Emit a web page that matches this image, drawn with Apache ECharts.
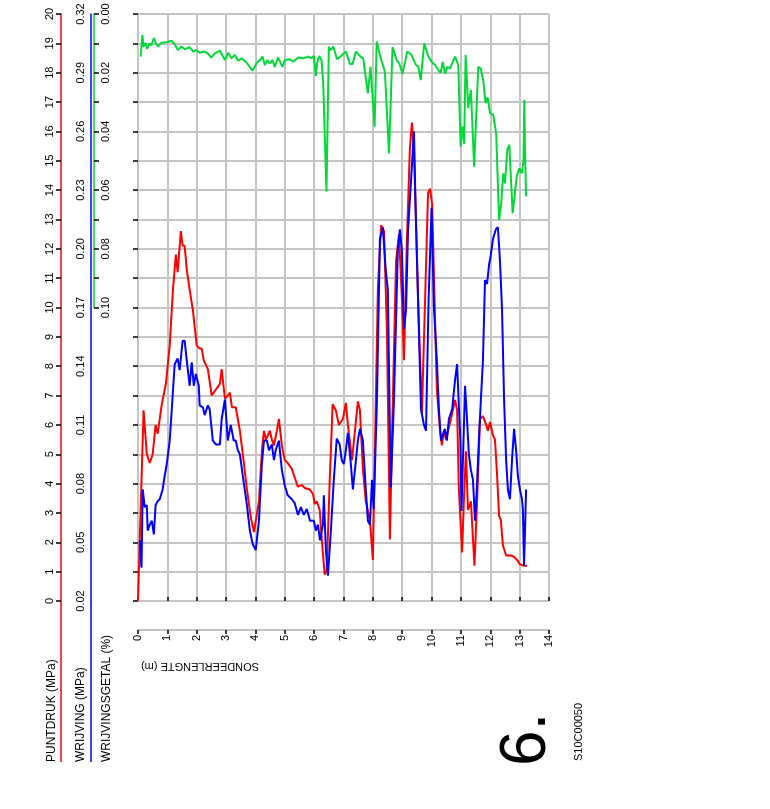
<!DOCTYPE html>
<html>
<head>
<meta charset="utf-8">
<script src="https://cdn.jsdelivr.net/npm/echarts@6/dist/echarts.min.js"></script>
<style>html,body{margin:0;padding:0;background:#fff}#c{width:770px;height:809px}</style>
</head>
<body>
<div id="c"></div>
<script>
// depth (m) ticks
const depthTicks = [0,1,2,3,4,5,6,7,8,9,10,11,12,13,14];
// PUNTDRUK (MPa): [depth m, qc MPa]
const puntdruk = [[0.00,0.0],[0.06,2.1],[0.19,6.5],[0.30,5.0],[0.40,4.7],[0.50,5.0],[0.60,6.0],[0.67,5.7],[0.81,6.7],[0.95,7.4],[1.08,8.7],[1.19,10.6],[1.29,11.8],[1.35,11.2],[1.46,12.6],[1.52,12.1],[1.59,12.1],[1.66,11.3],[1.76,10.6],[1.87,9.9],[1.93,9.9],[2.00,8.7],[2.10,8.6],[2.17,8.6],[2.24,8.2],[2.38,7.9],[2.51,7.0],[2.65,7.2],[2.79,7.4],[2.85,7.9],[2.96,6.9],[3.06,7.0],[3.13,7.1],[3.20,6.6],[3.33,6.6],[3.47,5.8],[3.57,5.0],[3.71,3.8],[3.85,2.8],[3.95,2.35],[4.01,2.4],[4.12,3.4],[4.22,5.1],[4.29,5.8],[4.36,5.5],[4.42,5.5],[4.49,5.8],[4.56,5.5],[4.63,5.3],[4.73,5.8],[4.80,6.2],[4.90,5.3],[5.00,4.8],[5.10,4.7],[5.24,4.5],[5.34,4.2],[5.44,3.9],[5.58,3.95],[5.68,3.85],[5.85,3.8],[5.96,3.65],[6.02,3.3],[6.09,3.4],[6.19,3.1],[6.26,2.1],[6.36,0.9],[6.43,1.05],[6.53,4.1],[6.63,6.7],[6.74,6.5],[6.84,6.0],[6.91,6.1],[6.98,6.2],[7.08,6.75],[7.15,6.0],[7.29,4.8],[7.39,5.8],[7.49,6.8],[7.56,6.5],[7.66,4.5],[7.76,3.4],[7.90,2.75],[8.00,1.4],[8.07,5.1],[8.17,10.6],[8.28,12.8],[8.38,12.6],[8.48,9.2],[8.58,2.1],[8.68,6.8],[8.79,11.6],[8.89,12.5],[8.99,10.3],[9.06,8.2],[9.16,12.3],[9.26,15.4],[9.33,16.3],[9.40,15.4],[9.54,10.3],[9.67,6.4],[9.78,10.3],[9.88,13.9],[9.95,14.05],[10.02,13.5],[10.10,10.3],[10.18,7.2],[10.29,5.8],[10.35,5.3],[10.42,5.8],[10.49,5.5],[10.56,5.8],[10.66,6.2],[10.80,6.85],[10.87,6.5],[10.93,3.8],[11.04,1.65],[11.10,3.4],[11.17,5.1],[11.24,3.1],[11.34,3.4],[11.46,1.2],[11.55,3.4],[11.65,6.2],[11.75,6.3],[11.86,6.0],[11.92,5.8],[11.99,6.1],[12.09,5.65],[12.16,5.5],[12.23,4.3],[12.30,2.9],[12.36,2.75],[12.43,1.9],[12.54,1.55],[12.71,1.55],[12.81,1.5],[12.91,1.4],[13.01,1.25],[13.15,1.2],[13.25,1.2]];
// WRIJVING (MPa): [depth m, fs MPa]
const wrijving = [[0.06,0.051],[0.12,0.037],[0.16,0.077],[0.23,0.068],[0.30,0.069],[0.33,0.056],[0.40,0.059],[0.47,0.061],[0.54,0.054],[0.60,0.069],[0.67,0.071],[0.74,0.072],[0.84,0.077],[0.91,0.084],[0.98,0.090],[1.08,0.102],[1.15,0.118],[1.25,0.141],[1.35,0.144],[1.42,0.138],[1.52,0.153],[1.59,0.153],[1.66,0.143],[1.76,0.130],[1.83,0.142],[1.90,0.130],[1.97,0.136],[2.07,0.130],[2.10,0.120],[2.21,0.119],[2.27,0.115],[2.38,0.120],[2.44,0.118],[2.55,0.102],[2.65,0.100],[2.79,0.100],[2.85,0.113],[2.96,0.123],[3.06,0.102],[3.16,0.110],[3.26,0.102],[3.33,0.102],[3.40,0.097],[3.47,0.095],[3.57,0.084],[3.71,0.069],[3.81,0.056],[3.91,0.049],[4.01,0.046],[4.12,0.061],[4.22,0.090],[4.29,0.102],[4.39,0.102],[4.46,0.097],[4.56,0.100],[4.63,0.092],[4.69,0.097],[4.80,0.102],[4.90,0.087],[5.00,0.079],[5.10,0.074],[5.24,0.072],[5.34,0.070],[5.45,0.064],[5.55,0.068],[5.65,0.064],[5.75,0.067],[5.86,0.061],[5.99,0.061],[6.06,0.056],[6.13,0.059],[6.20,0.051],[6.30,0.059],[6.33,0.074],[6.40,0.046],[6.47,0.033],[6.57,0.056],[6.67,0.082],[6.77,0.103],[6.87,0.100],[6.94,0.092],[7.01,0.090],[7.08,0.097],[7.15,0.106],[7.25,0.090],[7.32,0.077],[7.39,0.087],[7.49,0.102],[7.56,0.108],[7.66,0.102],[7.76,0.077],[7.83,0.061],[7.90,0.059],[7.97,0.082],[8.03,0.067],[8.14,0.123],[8.24,0.205],[8.34,0.211],[8.44,0.189],[8.51,0.179],[8.61,0.078],[8.72,0.123],[8.85,0.199],[8.92,0.210],[8.99,0.199],[9.06,0.159],[9.13,0.169],[9.20,0.210],[9.30,0.235],[9.40,0.260],[9.45,0.225],[9.54,0.174],[9.64,0.118],[9.74,0.110],[9.81,0.107],[9.90,0.175],[10.00,0.221],[10.08,0.170],[10.18,0.143],[10.25,0.118],[10.32,0.102],[10.39,0.105],[10.45,0.108],[10.52,0.102],[10.59,0.113],[10.70,0.118],[10.80,0.133],[10.87,0.141],[10.93,0.140],[10.98,0.102],[11.02,0.066],[11.14,0.130],[11.20,0.115],[11.27,0.095],[11.34,0.087],[11.41,0.082],[11.48,0.061],[11.54,0.077],[11.61,0.102],[11.68,0.123],[11.75,0.143],[11.82,0.184],[11.89,0.182],[11.96,0.192],[12.02,0.197],[12.09,0.205],[12.19,0.210],[12.26,0.211],[12.33,0.194],[12.40,0.169],[12.47,0.123],[12.54,0.092],[12.60,0.077],[12.67,0.072],[12.74,0.092],[12.81,0.108],[12.88,0.097],[12.94,0.084],[13.01,0.077],[13.08,0.072],[13.11,0.067],[13.15,0.038],[13.18,0.038],[13.22,0.077]];
// WRIJVINGSGETAL (%): [depth m, Rf]
const wrijvingsgetal = [[0.09,0.0145],[0.15,0.0072],[0.19,0.0111],[0.26,0.0099],[0.31,0.0119],[0.38,0.0102],[0.46,0.0106],[0.54,0.0082],[0.60,0.0098],[0.68,0.0111],[0.80,0.0098],[0.97,0.0096],[1.14,0.0091],[1.25,0.0103],[1.36,0.0123],[1.48,0.0111],[1.59,0.0120],[1.76,0.0113],[1.88,0.0128],[1.99,0.0123],[2.10,0.0132],[2.27,0.0128],[2.39,0.0136],[2.50,0.0149],[2.62,0.0134],[2.79,0.0125],[2.96,0.0157],[3.07,0.0132],[3.18,0.0151],[3.30,0.0140],[3.41,0.0159],[3.53,0.0151],[3.70,0.0166],[3.90,0.0193],[4.04,0.0168],[4.15,0.0157],[4.24,0.0145],[4.32,0.0174],[4.40,0.0157],[4.49,0.0168],[4.58,0.0157],[4.66,0.0180],[4.77,0.0148],[4.92,0.0180],[5.00,0.0157],[5.17,0.0154],[5.28,0.0163],[5.46,0.0148],[5.63,0.0151],[5.80,0.0145],[5.91,0.0151],[5.99,0.0143],[6.06,0.0211],[6.10,0.0168],[6.17,0.0143],[6.25,0.0157],[6.31,0.0236],[6.42,0.0605],[6.50,0.0111],[6.56,0.0123],[6.65,0.0111],[6.78,0.0154],[6.90,0.0145],[7.08,0.0128],[7.22,0.0170],[7.31,0.0170],[7.42,0.0128],[7.58,0.0145],[7.67,0.0151],[7.83,0.0270],[7.92,0.0180],[8.06,0.0384],[8.13,0.0094],[8.24,0.0140],[8.41,0.0197],[8.55,0.0475],[8.67,0.0113],[8.81,0.0157],[8.90,0.0168],[9.01,0.0204],[9.17,0.0128],[9.32,0.0140],[9.47,0.0174],[9.55,0.0180],[9.63,0.0225],[9.75,0.0100],[9.89,0.0145],[10.00,0.0163],[10.12,0.0174],[10.23,0.0191],[10.31,0.0200],[10.38,0.0163],[10.46,0.0204],[10.54,0.0180],[10.63,0.0185],[10.80,0.0145],[10.91,0.0174],[10.99,0.0452],[11.05,0.0384],[11.11,0.0443],[11.16,0.0140],[11.25,0.0321],[11.34,0.0259],[11.45,0.0520],[11.59,0.0180],[11.67,0.0185],[11.76,0.0225],[11.84,0.0304],[11.91,0.0284],[11.99,0.0338],[12.10,0.0344],[12.20,0.0406],[12.30,0.0702],[12.37,0.0647],[12.44,0.0543],[12.50,0.0577],[12.58,0.0463],[12.65,0.0446],[12.76,0.0679],[12.90,0.0554],[12.99,0.0526],[13.07,0.0543],[13.13,0.0503],[13.16,0.0293],[13.18,0.0452],[13.22,0.0622]];
// axis ranges
const qcRange = [0, 20];
const fsRange = [0.02, 0.32];
const rfRange = [0, 0.10];

const FONT = 'Arial, "Liberation Sans", sans-serif';
const GRID = '#c4c4c4';
const chart = echarts.init(document.getElementById('c'), null, {renderer: 'canvas'});

const baseY = {
  type: 'value', position: 'left', nameGap: 0,
  axisLabel: {rotate: 90, color: '#000', fontSize: 11, fontFamily: FONT},
  axisTick: {lineStyle: {color: '#000', width: 1.5}, length: 5},
  splitLine: {show: false}
};

chart.setOption({
  animation: false,
  textStyle: {fontFamily: FONT},
  grid: [
    {left: 138, top: 14, width: 411, height: 587},
    {left: 138, top: 14, width: 411, height: 293.5}
  ],
  xAxis: [
    {gridIndex: 0, type: 'value', min: depthTicks[0], max: depthTicks[depthTicks.length - 1], interval: 1,
     position: 'bottom', offset: 29,
     axisLine: {onZero: false, lineStyle: {color: '#c0c0c0', width: 2}},
     axisTick: {lineStyle: {color: '#000', width: 1.5}, length: 4},
     axisLabel: {rotate: 90, color: '#000', fontSize: 11, margin: 5, fontFamily: FONT},
     splitLine: {show: true, lineStyle: {color: GRID, width: 2}}},
    {gridIndex: 0, type: 'value', min: 0, max: 14, interval: 1, position: 'bottom', offset: 29,
     axisLine: {show: false}, axisTick: {inside: true, length: 4, lineStyle: {color: '#000', width: 1.5}},
     axisLabel: {show: false}, splitLine: {show: false}},
    {gridIndex: 1, type: 'value', min: 0, max: 14, show: false}
  ],
  yAxis: [
    Object.assign({}, baseY, {gridIndex: 0, min: qcRange[0], max: qcRange[1], interval: 1, offset: 77,
      axisLine: {show: true, onZero: false, lineStyle: {color: '#ff0000', width: 1.5}},
      axisLabel: Object.assign({}, baseY.axisLabel, {margin: 6}),
      splitLine: {show: true, lineStyle: {color: GRID, width: 2}}}),
    Object.assign({}, baseY, {gridIndex: 0, min: fsRange[0], max: fsRange[1], interval: 0.005, offset: 47,
      axisLine: {show: true, onZero: false, lineStyle: {color: '#0000ff', width: 1.5}},
      axisTick: {show: false},
      axisLabel: Object.assign({}, baseY.axisLabel, {margin: 5,
        formatter: v => (Math.round((v - fsRange[0]) / 0.005) % 6 === 0) ? v.toFixed(2) : ''})}),
    Object.assign({}, baseY, {gridIndex: 0, min: qcRange[0], max: qcRange[1], interval: 1, offset: 47,
      axisLine: {show: false}, axisLabel: {show: false}}),
    Object.assign({}, baseY, {gridIndex: 1, min: rfRange[0], max: rfRange[1], interval: 0.01, inverse: true, offset: 44,
      axisLine: {show: true, onZero: false, lineStyle: {color: '#00d936', width: 1.5}},
      axisTick: {inside: true, length: 5, lineStyle: {color: '#000', width: 1.5}},
      axisLabel: Object.assign({}, baseY.axisLabel, {inside: true, margin: 6,
        formatter: v => (Math.round(v * 100) % 2 === 0) ? v.toFixed(2) : ''})})
  ],
  series: [
    {type: 'line', name: 'PUNTDRUK', xAxisIndex: 0, yAxisIndex: 0, data: puntdruk, showSymbol: false,
     lineStyle: {color: '#ff0000', width: 2}, itemStyle: {color: '#ff0000'}},
    {type: 'line', name: 'WRIJVING', xAxisIndex: 0, yAxisIndex: 1, data: wrijving, showSymbol: false,
     lineStyle: {color: '#0000ff', width: 2}, itemStyle: {color: '#0000ff'}},
    {type: 'line', name: 'WRIJVINGSGETAL', xAxisIndex: 2, yAxisIndex: 3, data: wrijvingsgetal, showSymbol: false,
     lineStyle: {color: '#00d936', width: 2}, itemStyle: {color: '#00d936'}}
  ],
  graphic: [
    {type: 'line', shape: {x1: 61, y1: 601, x2: 61, y2: 762}, style: {stroke: '#ff0000', lineWidth: 1.5}},
    {type: 'line', shape: {x1: 91, y1: 601, x2: 91, y2: 762}, style: {stroke: '#0000ff', lineWidth: 1.5}},
    {type: 'text', x: 52, y: 762, rotation: Math.PI / 2,
     style: {text: 'PUNTDRUK (MPa)', fontSize: 12, fontFamily: FONT, fill: '#000', textAlign: 'left', textVerticalAlign: 'middle'}},
    {type: 'text', x: 81, y: 762, rotation: Math.PI / 2,
     style: {text: 'WRIJVING (MPa)', fontSize: 12, fontFamily: FONT, fill: '#000', textAlign: 'left', textVerticalAlign: 'middle'}},
    {type: 'text', x: 107, y: 762, rotation: Math.PI / 2,
     style: {text: 'WRIJVINGSGETAL (%)', fontSize: 12, fontFamily: FONT, fill: '#000', textAlign: 'left', textVerticalAlign: 'middle'}},
    {type: 'text', x: 200, y: 666, rotation: Math.PI,
     style: {text: 'SONDEERLENGTE (m)', fontSize: 11, fontFamily: FONT, fill: '#000', textAlign: 'center', textVerticalAlign: 'middle'}},
    {type: 'text', x: 527, y: 766, rotation: Math.PI / 2,
     style: {text: '6.', fontSize: 64, fontFamily: FONT, fill: '#000', textAlign: 'left', textVerticalAlign: 'middle'}},
    {type: 'text', x: 579, y: 761, rotation: Math.PI / 2,
     style: {text: 'S10C00050', fontSize: 11, fontFamily: FONT, fill: '#000', textAlign: 'left', textVerticalAlign: 'middle'}}
  ]
});
</script>
</body>
</html>
